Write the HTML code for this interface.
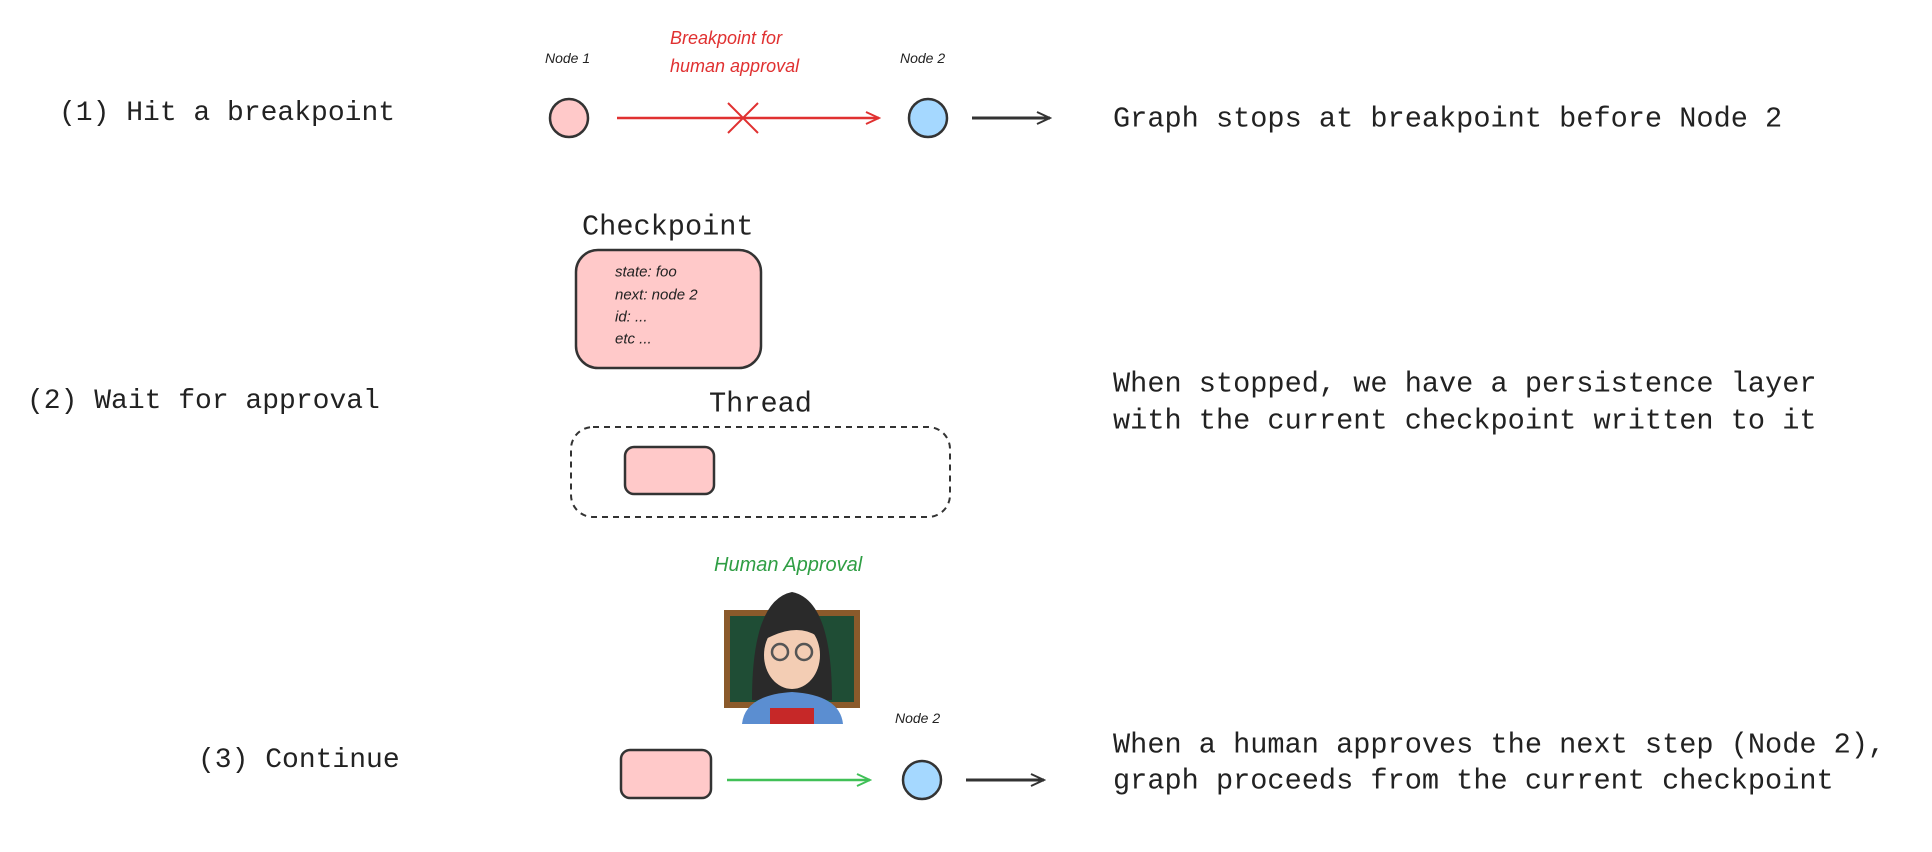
<!DOCTYPE html>
<html><head><meta charset="utf-8"><style>
body{margin:0;background:#fff;width:1932px;height:852px;overflow:hidden;position:relative}
.m{position:absolute;font-family:"Liberation Mono",monospace;font-size:28.6px;color:#222;white-space:pre;line-height:1;transform:translateY(-50%)}
.h{position:absolute;font-family:"Liberation Sans",sans-serif;font-style:italic;white-space:pre;line-height:1;transform:translateY(-50%)}
</style></head><body>
<svg width="1932" height="852" style="position:absolute;left:0;top:0">
<defs>
<marker id="ar" markerWidth="16" markerHeight="14" refX="14" refY="7" orient="auto" markerUnits="userSpaceOnUse"><path d="M1,1 L14,7 L1,13" fill="none" stroke="context-stroke" stroke-width="2"/></marker>
</defs>
<circle cx="569" cy="118" r="19" fill="#ffc9c9" stroke="#333" stroke-width="2.5"/>
<line x1="617" y1="118" x2="879" y2="118" stroke="#e03131" stroke-width="2.5" marker-end="url(#ar)"/>
<path d="M728,103 L758,133 M758,103 L728,133" stroke="#e03131" stroke-width="2"/>
<circle cx="928" cy="118" r="19" fill="#a5d8ff" stroke="#333" stroke-width="2.5"/>
<line x1="972" y1="118" x2="1050" y2="118" stroke="#333" stroke-width="3" marker-end="url(#ar)"/>
<rect x="576" y="250" width="185" height="118" rx="22" fill="#ffc9c9" stroke="#333" stroke-width="2.5"/>
<rect x="571" y="427" width="379" height="90" rx="22" fill="none" stroke="#333" stroke-width="2" stroke-dasharray="6,5"/>
<rect x="625" y="447" width="89" height="47" rx="9" fill="#ffc9c9" stroke="#333" stroke-width="2.5"/>
<rect x="724" y="610" width="136" height="98" fill="#8b5a2b"/>
<rect x="730" y="616" width="124" height="86" fill="#1f4d35"/>
<path d="M752,700 Q752,600 792,592 Q832,600 832,700 Z" fill="#2a2a2a"/>
<ellipse cx="792" cy="655" rx="28" ry="34" fill="#f3cdb4"/>
<path d="M764,640 Q775,605 792,604 Q815,606 822,640 Q800,620 764,640Z" fill="#2a2a2a"/>
<circle cx="780" cy="652" r="8" fill="none" stroke="#555" stroke-width="2.5"/>
<circle cx="804" cy="652" r="8" fill="none" stroke="#555" stroke-width="2.5"/>
<path d="M742,724 Q745,695 792,692 Q840,695 843,724Z" fill="#5b8ed1"/>
<rect x="770" y="708" width="44" height="16" fill="#c62828"/>
<rect x="621" y="750" width="90" height="48" rx="9" fill="#ffc9c9" stroke="#333" stroke-width="2.5"/>
<line x1="727" y1="780" x2="870" y2="780" stroke="#40c057" stroke-width="2.5" marker-end="url(#ar)"/>
<circle cx="922" cy="780" r="19" fill="#a5d8ff" stroke="#333" stroke-width="2.5"/>
<line x1="966" y1="780" x2="1044" y2="780" stroke="#333" stroke-width="3" marker-end="url(#ar)"/>
</svg>
<div class="m" style="left:59px;top:114px;font-size:28px">(1) Hit a breakpoint</div>
<div class="h" style="left:545px;top:58px;font-size:14px;color:#222">Node 1</div>
<div class="h" style="left:670px;top:38px;font-size:18px;color:#e03131">Breakpoint for</div>
<div class="h" style="left:670px;top:66px;font-size:18px;color:#e03131">human approval</div>
<div class="h" style="left:900px;top:58px;font-size:14px;color:#222">Node 2</div>
<div class="m" style="left:1113px;top:120px">Graph stops at breakpoint before Node 2</div>
<div class="m" style="left:582px;top:228px">Checkpoint</div>
<div class="h" style="left:615px;top:272px;font-size:15px;color:#222">state: foo</div>
<div class="h" style="left:615px;top:295px;font-size:15px;color:#222">next: node 2</div>
<div class="h" style="left:615px;top:317px;font-size:15px;color:#222">id: ...</div>
<div class="h" style="left:615px;top:339px;font-size:15px;color:#222">etc ...</div>
<div class="m" style="left:27px;top:402px;font-size:28px">(2) Wait for approval</div>
<div class="m" style="left:709px;top:405px">Thread</div>
<div class="m" style="left:1113px;top:385px">When stopped, we have a persistence layer</div>
<div class="m" style="left:1113px;top:422px">with the current checkpoint written to it</div>
<div class="h" style="left:714px;top:565px;font-size:20px;color:#2f9e44">Human Approval</div>
<div class="h" style="left:895px;top:718px;font-size:14px;color:#222">Node 2</div>
<div class="m" style="left:198px;top:761px;font-size:28px">(3) Continue</div>
<div class="m" style="left:1113px;top:746px">When a human approves the next step (Node 2),</div>
<div class="m" style="left:1113px;top:782px">graph proceeds from the current checkpoint</div>
</body></html>
